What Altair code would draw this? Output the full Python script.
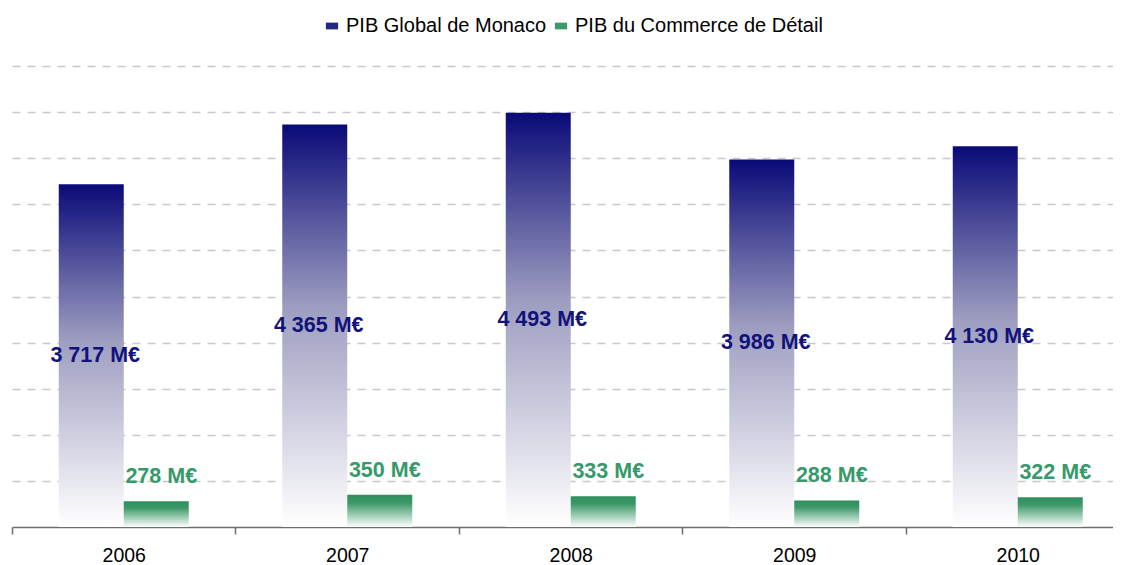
import altair as alt
import pandas as pd

# ---- data ----
years = [2006, 2007, 2008, 2009, 2010]
pib_global = [3717, 4365, 4493, 3986, 4130]
pib_commerce = [278, 350, 333, 288, 322]
series_names = ["PIB Global de Monaco", "PIB du Commerce de Détail"]
series_colors = ["#26268a", "#3a9a6a"]


def fmt(v):
    return f"{v:,}".replace(",", " ") + " M€"


df = pd.DataFrame({
    "year": years,
    "global": pib_global,
    "commerce": pib_commerce,
    "lab_global": [fmt(v) for v in pib_global],
    "lab_commerce": [fmt(v) for v in pib_commerce],
})

legend_df = pd.DataFrame({"serie": series_names, "year": [years[0]] * 2, "v": [0, 0]})

FONT = "Liberation Sans"
BAND_PX = 223.5          # width of one year band in pixels
PLOT_W = 1101
PLOT_H = 461
BW = 65 / BAND_PX        # bar width in year units

xscale = alt.Scale(domain=[2005.5, 2005.5 + PLOT_W / BAND_PX], nice=False, zero=False)
yscale = alt.Scale(domain=[0, 5000], nice=False)

xaxis = alt.Axis(
    values=[2005.5, 2006.5, 2007.5, 2008.5, 2009.5],
    labelExpr="toString(datum.value + 0.5)",
    labelOffset=BAND_PX / 2,
    labelFlush=False,
    labelOverlap=False,
    labelBound=False,
    tickSize=7,
    tickWidth=1.5,
    tickColor="#6e6e6e",
    domainColor="#6e6e6e",
    domainWidth=1.6,
    labelFontSize=19.5,
    labelFont=FONT,
    labelColor="#000000",
    labelPadding=12,
    grid=False,
    title=None,
)

yaxis = alt.Axis(
    values=[500, 1000, 1500, 2000, 2500, 3000, 3500, 4000, 4500, 5000],
    grid=True,
    gridDash=[8, 7],
    gridColor="#c8c8c8",
    gridWidth=1.3,
    domain=False,
    ticks=False,
    labels=False,
    title=None,
)

grad_blue = alt.Gradient(
    gradient="linear",
    x1=0, x2=0, y1=0, y2=1,
    stops=[
        alt.GradientStop(color="#0a0a78", offset=0),
        alt.GradientStop(color="#9c9cc0", offset=0.45),
        alt.GradientStop(color="#ffffff", offset=1),
    ],
)
grad_green = alt.Gradient(
    gradient="linear",
    x1=0, x2=0, y1=0, y2=1,
    stops=[
        alt.GradientStop(color="#2e8f5e", offset=0),
        alt.GradientStop(color="#3c9868", offset=0.25),
        alt.GradientStop(color="#ffffff", offset=1),
    ],
)

base = alt.Chart(df)

blue = base.transform_calculate(
    bx0=f"datum.year - {BW}", bx1="datum.year"
).mark_bar(color=grad_blue).encode(
    x=alt.X("bx0:Q", scale=xscale, axis=xaxis),
    x2="bx1:Q",
    y=alt.Y("global:Q", scale=yscale, axis=yaxis),
    y2=alt.datum(0),
)

green = base.transform_calculate(
    gx0="datum.year", gx1=f"datum.year + {BW}"
).mark_bar(color=grad_green).encode(
    x=alt.X("gx0:Q", scale=xscale),
    x2="gx1:Q",
    y=alt.Y("commerce:Q", scale=yscale),
    y2=alt.datum(0),
)

blue_text = base.transform_calculate(
    tx=f"datum.year - {BW / 2}", ty="datum.global / 2"
).mark_text(
    font=FONT, fontSize=21.5, fontWeight="bold", color="#12127a",
    align="center", baseline="middle", dx=4,
).encode(
    x=alt.X("tx:Q", scale=xscale),
    y=alt.Y("ty:Q", scale=yscale),
    text="lab_global:N",
)

green_text = base.transform_calculate(
    tx=f"datum.year + {BW / 2}"
).mark_text(
    font=FONT, fontSize=21.5, fontWeight="bold", color="#36996a",
    align="center", baseline="middle", dx=5, dy=-24,
).encode(
    x=alt.X("tx:Q", scale=xscale),
    y=alt.Y("commerce:Q", scale=yscale),
    text="lab_commerce:N",
)

legend_layer = alt.Chart(legend_df).mark_square(size=0, opacity=0).encode(
    x=alt.X("year:Q", scale=xscale),
    y=alt.Y("v:Q", scale=yscale),
    color=alt.Color(
        "serie:N",
        scale=alt.Scale(domain=series_names, range=series_colors),
        legend=alt.Legend(
            orient="none",
            legendX=310,
            legendY=-50,
            direction="horizontal",
            columns=2,
            title=None,
            padding=0,
            symbolType="M-1,-0.55H1V0.55H-1Z",
            symbolSize=150,
            symbolOpacity=1,
            symbolStrokeWidth=0,
            labelFont=FONT,
            labelFontSize=20,
            labelColor="#000000",
            labelOffset=4,
            columnPadding=4,
            labelLimit=400,
        ),
    ),
)

chart = alt.layer(blue, green, blue_text, green_text, legend_layer).properties(
    width=PLOT_W,
    height=PLOT_H,
    autosize=alt.AutoSizeParams(type="none"),
    padding={"left": 4, "top": 58, "right": 0, "bottom": 37},
    background="#ffffff",
).configure_view(stroke=None)

chart.save("out.html", embed_options={"renderer": "svg", "actions": False})
